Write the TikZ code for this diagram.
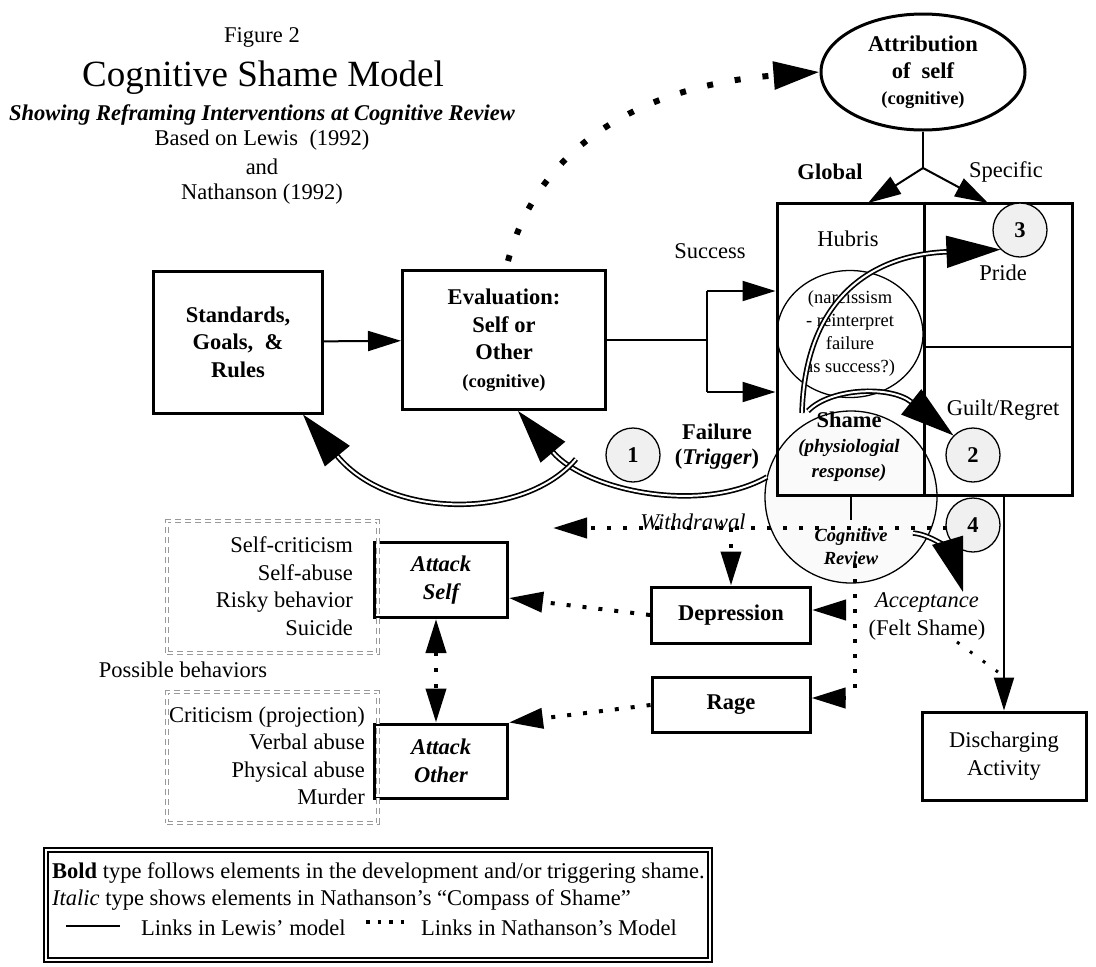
\documentclass[tikz,border=0pt]{standalone}
\usepackage{fontspec}
\setmainfont{Liberation Serif}
\usetikzlibrary{arrows.meta,shapes.geometric}
\newcommand\bodysize{\fontsize{22.5}{27.5}\selectfont}
\newcommand\notesize{\fontsize{18.5}{23}\selectfont}

\begin{document}
\begin{tikzpicture}[x=1pt,y=-1pt,
    every node/.style={inner sep=0pt, align=center, font=\bodysize},
    box/.style={draw, line width=3pt, font=\bfseries\bodysize},
    numb/.style={circle, draw, line width=1.3pt, fill=gray!12, minimum size=54pt, font=\bfseries\bodysize},
    lewis/.style={line width=2pt, -{Triangle[length=33pt,width=20pt]}},
    nath/.style={line width=4pt, dash pattern=on 4pt off 12pt, -{Triangle[length=34pt,width=20pt]}},
    redo/.style={double, line width=1.7pt, double distance=2pt, -{Triangle[length=54pt,width=32pt]}},
    behave/.style={draw=gray!80, double, dash pattern=on 6pt off 4pt, line width=0.6pt, double distance=2pt, minimum width=211pt},
  ]
\useasboundingbox (0,0) rectangle (1096,967);

% heading
\node (fig) at (262,37) {Figure 2};
\node[font=\fontsize{37}{40}\selectfont] (title) at (263,78) {Cognitive Shame Model};
\node[font=\bfseries\itshape\bodysize] (subtitle) at (262,115) {Showing Reframing Interventions at Cognitive Review};
\node (lewisref) at (262,140) {Based on Lewis\ \ (1992)};
\node (andref) at (262,167) {and};
\node (nathref) at (262,194) {Nathanson (1992)};

% attribution of self
\node[ellipse, draw, line width=3pt, minimum width=204pt, minimum height=116pt, font=\bfseries\bodysize] (attrib) at (923,72) {Attribution\\of\ \ self\\[-2pt]{\notesize (cognitive)}};
\coordinate (fork) at (923,168);
\coordinate (globtop) at (868,203);
\coordinate (spectop) at (988,203);
\draw[line width=2pt] (attrib) -- (fork);
\draw[lewis] (fork) -- (globtop);
\draw[lewis] (fork) -- (spectop);
\node[font=\bfseries\bodysize] (global) at (830,172) {Global};
\node (specific) at (1006,172) {Specific};

% cognitive review circle under the grid
\node[circle, draw, line width=1.3pt, fill=gray!4, minimum size=172pt] (review) at (851,497) {};

% hubris / pride / shame / guilt grid
\node[draw, line width=3pt, minimum width=295pt, minimum height=292pt] (frame) at (924.5,349) {};
\draw[line width=2.7pt] (frame.north) -- (frame.south);
\draw[line width=2.7pt] (frame.north |- 0,347) -- (frame.east |- 0,347);
\draw[line width=1.5pt] (review.center |- frame.south) -- ++(0,23);
\node[ellipse, draw, line width=1.3pt, minimum width=146pt, minimum height=127pt, font=\notesize] (narc) at (850,334) {(narcissism\\- reinterpret\\failure\\as success?)};
\node (hubris) at (848,239) {Hubris};
\node (pride) at (1003,273) {Pride};
\node (guilt) at (1003,410) {Guilt/Regret};
\node[font=\bfseries\bodysize] (shame) at (849,420) {Shame};
\node[font=\bfseries\itshape\fontsize{19}{25}\selectfont] (physio) at (849,460) {(physiologial\\response)};
\node[font=\bfseries\itshape\notesize] (revtxt) at (851,547) {Cognitive\\Review};

\node[numb] (n1) at (633,455) {1};
\node[numb] (n2) at (973,455) {2};
\node[numb] (n3) at (1020,230) {3};
\node[numb] (n4) at (973,525) {4};

% standards and evaluation
\node[box, minimum width=169pt, minimum height=142pt] (standards) at (238,342) {Standards,\\Goals,\ \ \&\\Rules};
\node[box, minimum width=203pt, minimum height=139pt] (evaluation) at (504,340) {Evaluation:\\Self or\\Other\\{\notesize (cognitive)}};
\draw[lewis] (standards) -- (evaluation);

\coordinate (split) at (707,340);
\coordinate (succ) at (707,291);
\coordinate (fail) at (707,392);
\draw[line width=2pt] (evaluation) -- (split);
\draw[line width=2pt] (succ) -- (fail);
\draw[lewis] (succ) -- (frame.west |- succ);
\draw[lewis] (fail) -- (frame.west |- fail);
\node (success) at (710,251) {Success};
\node[font=\bfseries\bodysize] (failure) at (717,432) {Failure};
\node[font=\bfseries\bodysize] (trigger) at (717,459) {(\textit{Trigger})};

\draw[line width=6pt, dash pattern=on 6pt off 22pt, -{Triangle[length=46pt,width=27pt]}] ([xshift=4pt,yshift=8pt]evaluation.north) .. controls (540,140) and (650,85) .. (attrib.west);

% double arcs
\coordinate (shameout) at (767,477);
\coordinate (branch) at (576,459);
\coordinate (topride) at (802,413);
\coordinate (toguilt) at (808,411);
\coordinate (toaccept) at (913,533);
\node[font=\itshape\bodysize] (accept) at (927,602) {Acceptance};
\node (felt) at (927,630) {(Felt Shame)};
\draw[redo] (shameout) .. controls (700,515) and (585,490) .. ([xshift=14pt]evaluation.south);
\draw[redo] (branch) .. controls (525,520) and (390,520) .. ([xshift=65pt]standards.south);
\draw[redo] (topride) .. controls (805,300) and (870,255) .. (n3.south west);
\draw[redo] (toguilt) .. controls (830,388) and (890,385) .. (n2.north west);
\draw[redo] (toaccept) .. controls (935,535) and (952,555) .. ([xshift=36pt]accept.north);

% compass of shame
\node[box, minimum width=159pt, minimum height=56pt] (depression) at (731,615) {Depression};
\node[box, minimum width=158pt, minimum height=55pt] (rage) at (731,705) {Rage};
\coordinate (wdr) at (947,528);
\coordinate (wdl) at (553,528);
\draw[nath] (wdr) -- (wdl);
\node[font=\itshape\bodysize] (withdrawal) at (693,522) {Withdrawal};
\draw[nath] (depression.north |- wdr) -- (depression.north);
\coordinate (revtop) at (855,564);
\coordinate (revbot) at (855,698);
\coordinate (todep) at (846,610);
\coordinate (torage) at (846,698);
\draw[line width=4pt, dash pattern=on 4pt off 11pt] (revtop) -- (revbot);
\draw[nath] (todep) -- (depression.east |- todep);
\draw[nath] (torage) -- (rage.east |- torage);

\node[box, font=\bfseries\itshape\bodysize, minimum width=133pt, minimum height=75pt] (atself) at (441,580) {Attack\\Self};
\node[box, font=\bfseries\itshape\bodysize, minimum width=133pt, minimum height=74pt] (atother) at (441,761) {Attack\\Other};
\draw[nath] (depression.west) -- ([yshift=-18pt]atself.east);
\draw[nath] (rage.west) -- (atother.north east);
\draw[nath, {Triangle[length=34pt,width=20pt]}-{Triangle[length=34pt,width=20pt]}] ([xshift=-5pt]atself.south) -- ([xshift=-5pt]atother.north);

\node[behave, minimum height=132pt] (selfbox) at (272.5,587) {};
\node[anchor=east, align=right] (selflist) at (353,586) {Self-criticism\\Self-abuse\\Risky behavior\\Suicide};
\node[behave, minimum height=131pt] (otherbox) at (272.5,757.5) {};
\node[anchor=east, align=right] (otherlist) at (365,756) {Criticism (projection)\\Verbal abuse\\Physical abuse\\Murder};
\node (possible) at (183,670) {Possible behaviors};

% discharge
\node[draw, line width=3pt, minimum width=164pt, minimum height=88pt] (discharge) at (1004,756) {Discharging\\Activity};
\draw[lewis] (frame.south -| discharge.north) -- (discharge.north);
\coordinate (feltend) at (998,672);
\draw[line width=3pt, dash pattern=on 3pt off 13pt] ([xshift=30pt,yshift=-12pt]felt.center) -- (feltend);

% legend
\node[draw, double, line width=1.5pt, double distance=2.5pt, minimum width=664pt, minimum height=110pt] (legend) at (378,905) {};
\node[anchor=west] (legbold) at (52,873) {\textbf{Bold} type follows elements in the development and/or triggering shame.};
\node[anchor=west] (legital) at (52,900) {\textit{Italic} type shows elements in Nathanson’s “Compass of Shame”};
\draw[line width=2.5pt] (66,926) -- (120,926);
\node[anchor=west] (leglewis) at (141,928) {Links in Lewis’ model};
\draw[line width=3.5pt, dash pattern=on 3.5pt off 8pt] (366,922) -- (410,922);
\node[anchor=west] (legnath) at (421,928) {Links in Nathanson’s Model};
\end{tikzpicture}
\end{document}
